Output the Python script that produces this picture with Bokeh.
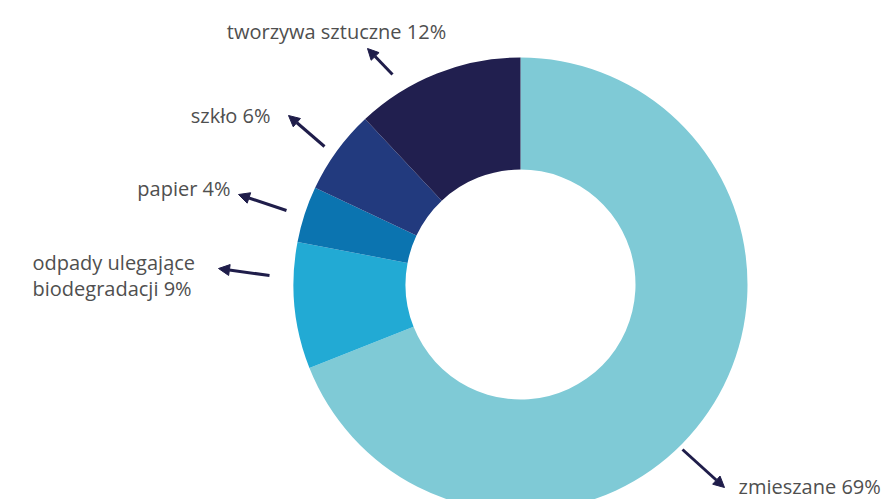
import numpy as np
from bokeh.plotting import figure
from bokeh.models import Range1d, Arrow, NormalHead, ColumnDataSource
from bokeh.core.properties import value
from bokeh.embed import file_html
from bokeh.resources import INLINE

# data (clockwise from 12 o'clock)
categories = ["zmieszane", "odpady ulegające biodegradacji", "papier", "szkło", "tworzywa sztuczne"]
shares = [69, 9, 4, 6, 12]
colors = ["#7fcad6", "#22aad4", "#0b74b0", "#223a7e", "#211f4f"]
label_texts = ["zmieszane 69%", "odpady ulegające\nbiodegradacji 9%", "papier 4%", "szkło 6%", "tworzywa sztuczne 12%"]

W, H = 887, 499
cx, cy = 520, H - 284
r_out, r_in = 227, 115

p = figure(width=W, height=H, output_backend="svg", toolbar_location=None,
           x_range=Range1d(0, W), y_range=Range1d(0, H), min_border=0)
p.axis.visible = False
p.grid.visible = False
p.outline_line_color = None
p.background_fill_color = "white"

frac = np.array(shares, dtype=float) / sum(shares)
cum = np.concatenate([[0], np.cumsum(frac)])
# clockwise from top: angle = pi/2 - 2*pi*cum
start = np.pi / 2 - 2 * np.pi * cum[1:]
end = np.pi / 2 - 2 * np.pi * cum[:-1]
src = ColumnDataSource(dict(start=start, end=end, color=colors, cat=categories))
p.annular_wedge(x=cx, y=cy, inner_radius=r_in, outer_radius=r_out,
                start_angle="start", end_angle="end", color="color",
                line_color=None, source=src)

# annotation layout (image pixel coords: tail x, tail y, head x, head y)
arrows_layout = [
    (682, 449, 724, 487),
    (269, 275, 218, 268),
    (286, 210, 238, 194),
    (324, 146, 288, 115),
    (392, 74, 367, 48),
]
for (x0, y0, x1, y1) in arrows_layout:
    p.add_layout(Arrow(end=NormalHead(size=11, fill_color="#1f1d4a", line_color="#1f1d4a"),
                       x_start=x0, y_start=H - y0, x_end=x1, y_end=H - y1,
                       line_color="#1f1d4a", line_width=3))

# label layout: x, baseline y (image), align
labels_layout = [
    (738, 486, "left"),
    (32, 262, "left"),
    (230, 188, "right"),
    (270, 115, "right"),
    (336, 31, "center"),
]
for txt, (x, y, al) in zip(label_texts, labels_layout):
    lines = txt.split("\n")
    for i, ln in enumerate(lines):
        p.text(x=[x], y=[H - y - i * 26], text=[ln], text_font=value("Open Sans"),
               text_font_size="20px", text_color="#4f4f4f", text_align=al,
               text_baseline="alphabetic")

open("out.html", "w").write(file_html(p, INLINE))
